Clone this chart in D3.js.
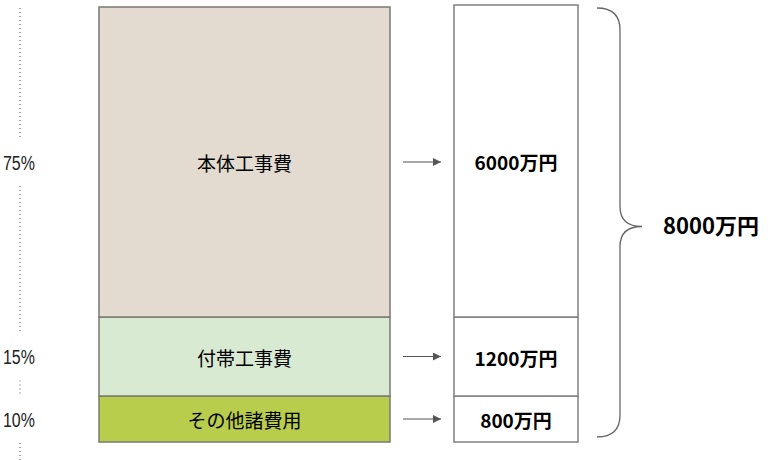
<!DOCTYPE html>
<html>
<head>
<meta charset="utf-8">
<script src="https://cdn.jsdelivr.net/npm/d3@7"></script>
<style>
  body { margin: 0; background: #fff; }
  svg text { font-family: "Noto Sans CJK JP", "Noto Sans", sans-serif; }
</style>
</head>
<body>
<div id="chart"></div>
<script>
// cost breakdown data
var categories = ["その他諸費用", "付帯工事費", "本体工事費"];
var shares = [10, 15, 75];          // %
var amounts = [800, 1200, 6000];    // 万円
var colors = ["#b8cd4b", "#d9ead3", "#e3dbd0"];

var svgWidth = 768;
var svgHeight = 460;

var svg = d3.select("#chart")
  .append("svg")
  .attr("width", svgWidth)
  .attr("height", svgHeight);

// stack the shares from the bottom
var rows = [];
var acc = 0;
shares.forEach(function(s, i) {
  rows.push({cat: categories[i], share: s, amount: amounts[i], color: colors[i], y0: acc, y1: acc + s});
  acc += s;
});

// the drawing is not strictly proportional, so the scale is piecewise
var yLeft = d3.scaleLinear().domain([0, 10, 25, 100]).range([442, 396, 317, 7]);
var yRight = d3.scaleLinear().domain([0, 10, 25, 100]).range([442, 396, 317, 5]);

var xLeft = {x0: 99, x1: 390};
var xRight = {x0: 454, x1: 578};

// left stacked bar
svg.selectAll("rect.left")
  .data(rows)
  .enter()
  .append("rect")
  .attr("class", "left")
  .attr("x", xLeft.x0)
  .attr("width", xLeft.x1 - xLeft.x0)
  .attr("y", d => yLeft(d.y1))
  .attr("height", d => yLeft(d.y0) - yLeft(d.y1))
  .attr("fill", d => d.color)
  .attr("stroke", "#7a7a72")
  .attr("stroke-width", 1.5);

svg.selectAll("text.cat")
  .data(rows)
  .enter()
  .append("text")
  .attr("class", "cat")
  .attr("x", (xLeft.x0 + xLeft.x1) / 2)
  .attr("y", d => (yLeft(d.y0) + yLeft(d.y1)) / 2)
  .attr("dy", "0.48em")
  .attr("text-anchor", "middle")
  .attr("font-size", "19px")
  .attr("fill", "#000")
  .text(d => d.cat);

// right amount bar
svg.selectAll("rect.right")
  .data(rows)
  .enter()
  .append("rect")
  .attr("class", "right")
  .attr("x", xRight.x0)
  .attr("width", xRight.x1 - xRight.x0)
  .attr("y", d => yRight(d.y1))
  .attr("height", d => yRight(d.y0) - yRight(d.y1))
  .attr("fill", "#fff")
  .attr("stroke", "#808080")
  .attr("stroke-width", 1.5);

svg.selectAll("text.amount")
  .data(rows)
  .enter()
  .append("text")
  .attr("class", "amount")
  .attr("x", (xRight.x0 + xRight.x1) / 2)
  .attr("y", d => (yRight(d.y0) + yRight(d.y1)) / 2)
  .attr("dy", "0.48em")
  .attr("text-anchor", "middle")
  .attr("font-size", "19px")
  .attr("font-weight", "bold")
  .attr("fill", "#000")
  .text(d => d.amount + "万円");

// arrows
svg.append("defs").append("marker")
  .attr("id", "arrow")
  .attr("viewBox", "0 0 10 10")
  .attr("refX", 10)
  .attr("refY", 5)
  .attr("markerWidth", 8)
  .attr("markerHeight", 8)
  .attr("markerUnits", "userSpaceOnUse")
  .attr("orient", "auto")
  .append("path")
  .attr("d", "M0,0 L10,5 L0,10 z")
  .attr("fill", "#555");

svg.selectAll("line.arrow")
  .data(rows)
  .enter()
  .append("line")
  .attr("class", "arrow")
  .attr("x1", 403)
  .attr("x2", 441)
  .attr("y1", d => (yLeft(d.y0) + yLeft(d.y1)) / 2)
  .attr("y2", d => (yLeft(d.y0) + yLeft(d.y1)) / 2)
  .attr("stroke", "#555")
  .attr("stroke-width", 1.2)
  .attr("marker-end", "url(#arrow)");

// percent labels on the left with a dotted guide
var pctY = rows.map(d => (yLeft(d.y0) + yLeft(d.y1)) / 2);
var gap = 24;
var segs = [];
var ys = pctY.slice().sort((a, b) => a - b);
var start = 8;
ys.forEach(function(y) {
  segs.push([start, y - gap]);
  start = y + gap;
});
segs.push([start, 460]);

svg.selectAll("line.guide")
  .data(segs)
  .enter()
  .append("line")
  .attr("class", "guide")
  .attr("x1", 20).attr("x2", 20)
  .attr("y1", d => d[0])
  .attr("y2", d => d[1])
  .attr("stroke", "#555")
  .attr("stroke-width", 1)
  .attr("stroke-dasharray", "1,3");

// reference uses a condensed face; squeeze the glyphs horizontally
svg.selectAll("text.pct")
  .data(rows)
  .enter()
  .append("text")
  .attr("class", "pct")
  .attr("transform", d => `translate(3, ${(yLeft(d.y0) + yLeft(d.y1)) / 2}) scale(0.76, 1)`)
  .attr("dy", "0.36em")
  .attr("font-size", "21px")
  .style("font-family", "'Liberation Sans', Arial, sans-serif")
  .attr("fill", "#222")
  .text(d => d.share + "%");

// brace and total
var bTop = 8, bBot = 437, bX = 620, bL = 597, tipX = 642;
var bMid = (bTop + bBot) / 2 + 4;
var brace = d3.path();
brace.moveTo(bL, bTop);
brace.quadraticCurveTo(bX, bTop, bX, bTop + 22);
brace.lineTo(bX, bMid - 20);
brace.quadraticCurveTo(bX, bMid, tipX, bMid);
brace.quadraticCurveTo(bX, bMid, bX, bMid + 20);
brace.lineTo(bX, bBot - 22);
brace.quadraticCurveTo(bX, bBot, bL, bBot);

svg.append("path")
  .attr("d", brace.toString())
  .attr("fill", "none")
  .attr("stroke", "#666")
  .attr("stroke-width", 1.3);

svg.append("text")
  .attr("x", 663)
  .attr("y", bMid)
  .attr("dy", "0.36em")
  .attr("font-size", "22px")
  .attr("font-weight", "bold")
  .attr("fill", "#000")
  .text(d3.sum(amounts) + "万円");
</script>
</body>
</html>
